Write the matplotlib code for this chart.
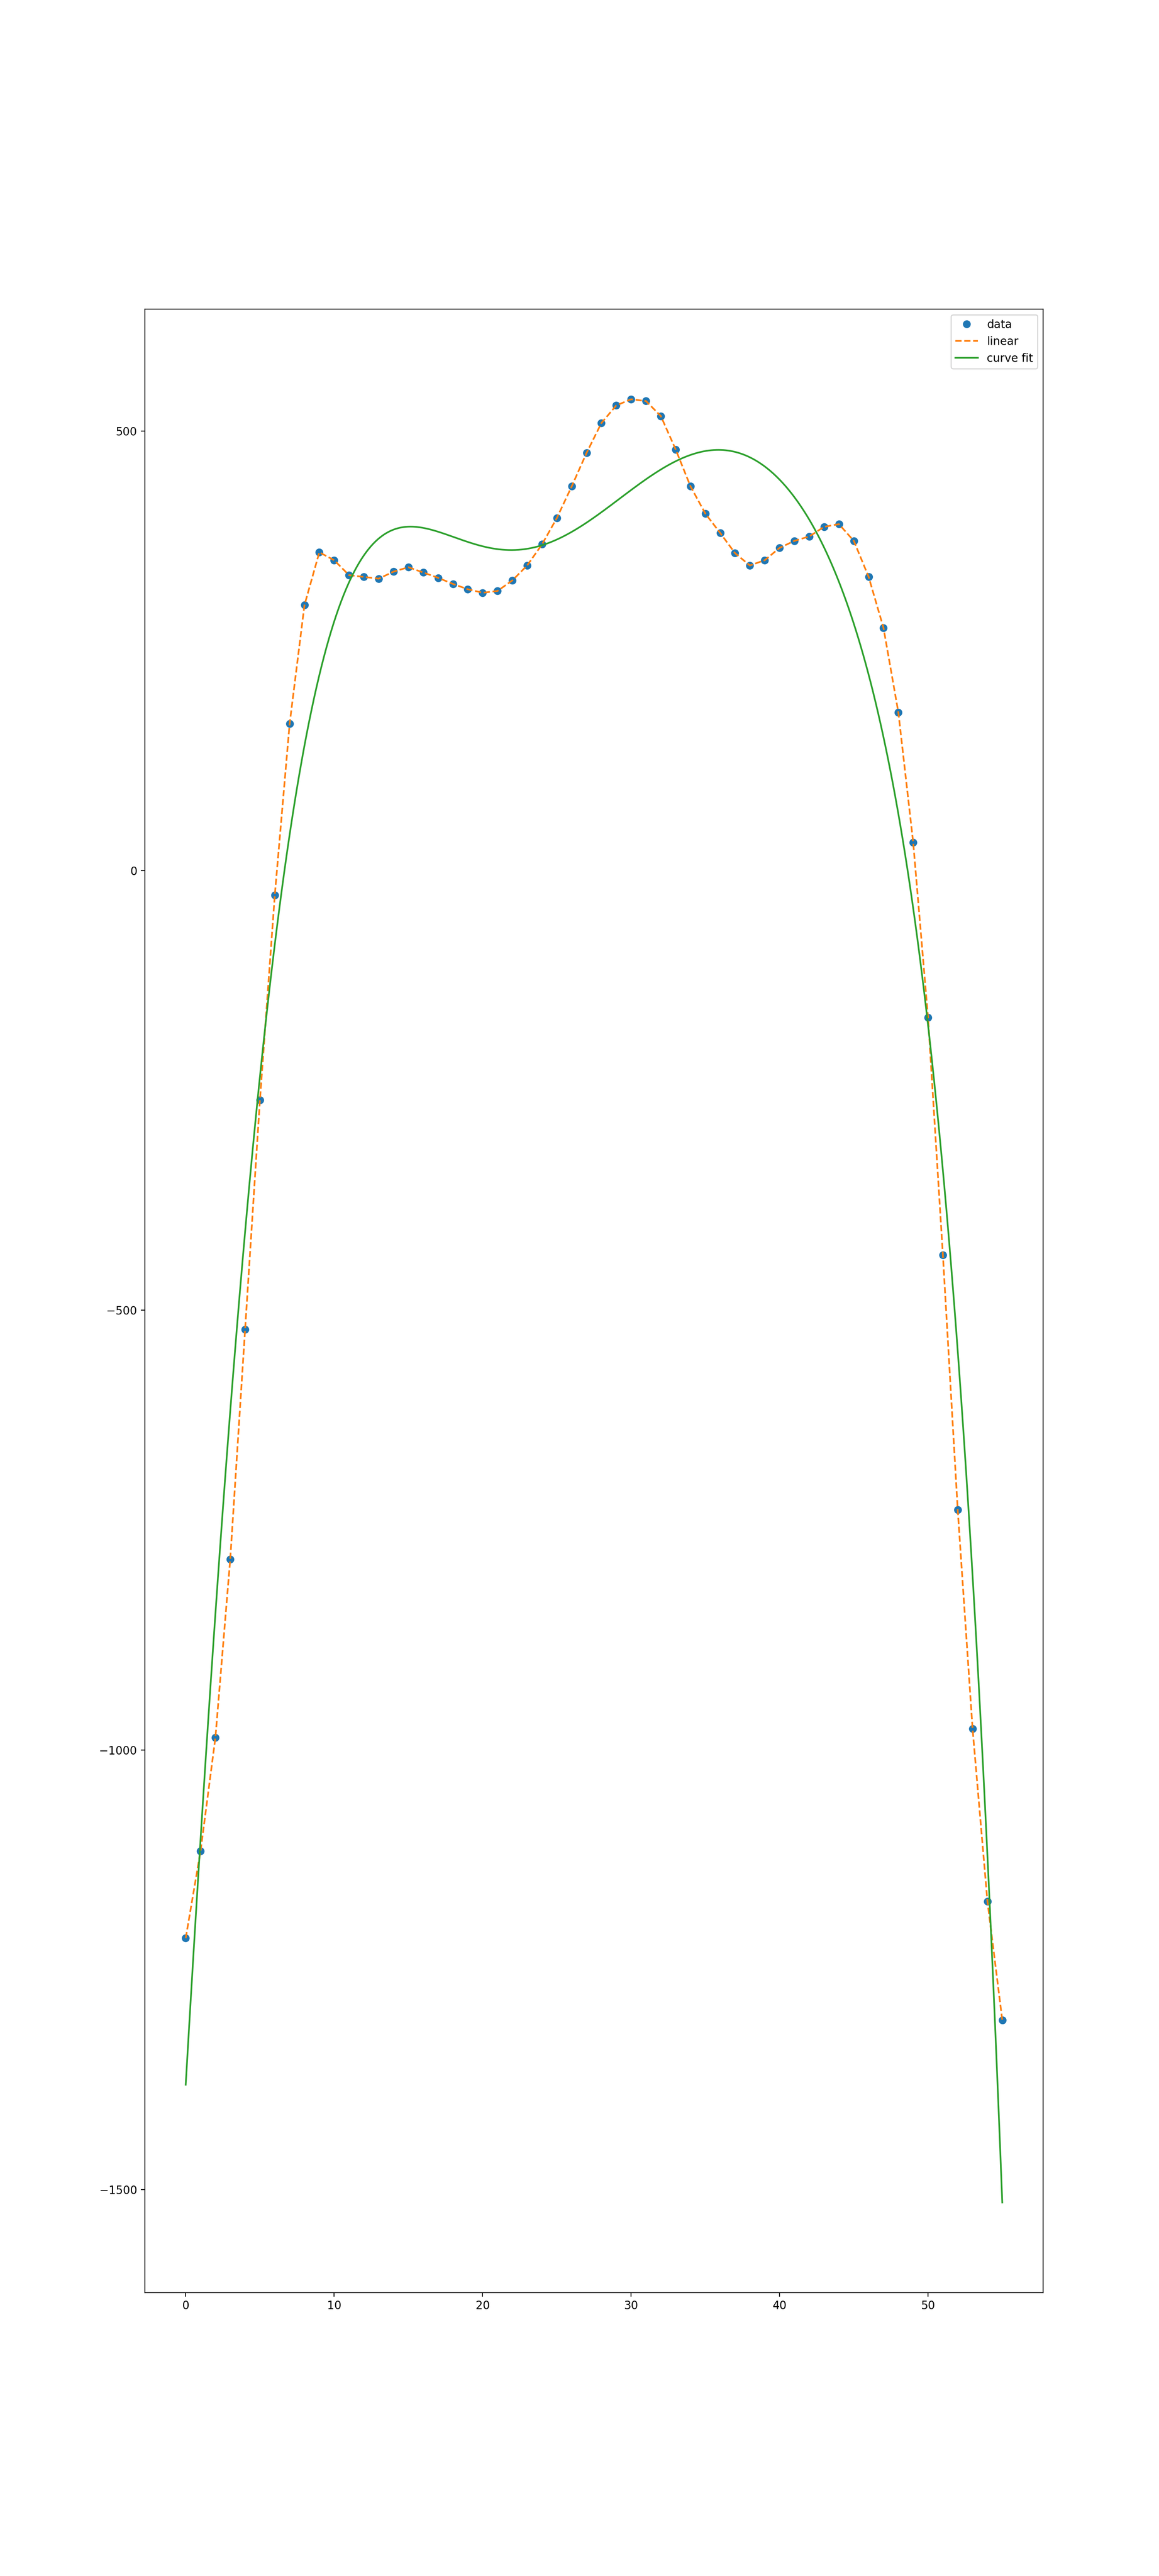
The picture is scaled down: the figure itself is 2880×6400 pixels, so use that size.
import numpy as np
import matplotlib
matplotlib.use("Agg")
import matplotlib.pyplot as plt

x_data = np.arange(56)
y_data = [-1214, -1115, -986, -783, -522, -261, -28, 167, 302, 362,
          353, 336, 334, 332, 340, 345, 339, 333, 326, 320,
          316, 318, 330, 347, 371, 401, 437, 475, 509, 529,
          536, 534, 517, 479, 437, 406, 384, 361, 347, 353,
          367, 375, 380, 391, 394, 375, 334, 276, 180, 32,
          -167, -437, -727, -976, -1172, -1307]
fit_degree = 7

coef = np.polyfit(x_data, y_data, fit_degree)
x_fine = np.linspace(x_data.min(), x_data.max(), 1000)
y_fit = np.polyval(coef, x_fine)

fig, ax = plt.subplots(figsize=(14.4, 32), dpi=200)
ax.plot(x_data, y_data, 'o', label='data')
ax.plot(x_data, y_data, '--', label='linear')
ax.plot(x_fine, y_fit, '-', label='curve fit')
ax.legend()
fig.savefig("out.png", dpi=200)
